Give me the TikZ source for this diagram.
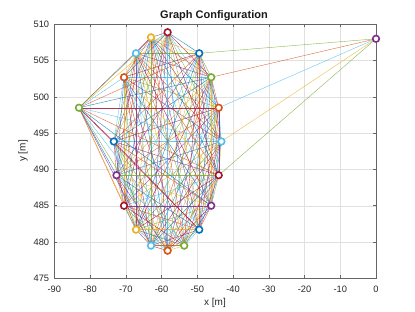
\documentclass[tikz,border=0pt]{standalone}
\usepackage{fontspec}
\setmainfont{Liberation Sans}
\definecolor{mc0}{RGB}{0,114,189}
\definecolor{mc1}{RGB}{217,83,25}
\definecolor{mc2}{RGB}{237,177,32}
\definecolor{mc3}{RGB}{126,47,142}
\definecolor{mc4}{RGB}{119,172,48}
\definecolor{mc5}{RGB}{77,190,238}
\definecolor{mc6}{RGB}{162,20,47}
\def\ringlist{0,1,2,3,5,6,7,8,10,11,12,13,14,15,16,17,18,19}

\begin{document}
\begin{tikzpicture}[x=1pt,y=1pt,
    marknode/.style={circle,draw,fill=white,line width=1.6pt,inner sep=0pt,minimum size=6.6pt},
    edgeline/.style={line width=0.4pt,draw opacity=0.85},
    ticklabel/.style={inner sep=0pt,text=black!85,font=\fontsize{9.3}{11}\selectfont},
    axislabel/.style={text=black!85,font=\fontsize{10}{12}\selectfont}]
    \useasboundingbox (0,0) rectangle (415,312);
    \node[text=black!90,font=\bfseries\fontsize{11}{13}\selectfont] (title) at (214,296) {Graph Configuration};
    \node[axislabel] (xlab) at (215,9) {x [m]};
    \node[axislabel,rotate=90] (ylab) at (23,161) {y [m]};
    \begin{scope}[shift={(376pt,-3413.4pt)},x=3.5744pt,y=7.2571pt]
        % grid and ticks
        \foreach \gx in {-90,-80,-70,-60,-50,-40,-30,-20,-10,0} {
            \draw[black!12,line width=0.4pt] (\gx,475) -- (\gx,510);
            \draw[black!60,line width=0.5pt] (\gx,475) -- ++(0,3pt) (\gx,510) -- ++(0,-3pt);
            \node[ticklabel,anchor=north,yshift=-7.5pt] (xt\gx) at (\gx,475) {\gx};
        }
        \foreach \gy in {475,480,485,490,495,500,505,510} {
            \draw[black!12,line width=0.4pt] (-90,\gy) -- (0,\gy);
            \draw[black!60,line width=0.5pt] (-90,\gy) -- ++(3pt,0) (0,\gy) -- ++(-3pt,0);
            \node[ticklabel,anchor=east,xshift=-5pt] (yt\gy) at (-90,\gy) {\gy};
        }
        \draw[black!60,line width=0.5pt] (-90,475) rectangle (0,510);
        % positions
        \foreach \k/\px/\py in {0/-43.25/493.85, 1/-44.0/498.5, 2/-46.1/502.7, 3/-49.45/506.0,
            4/0/508.0, 5/-58.3/508.9, 6/-62.95/508.2, 7/-67.15/506.0, 8/-70.5/502.7,
            9/-83.1/498.5, 10/-73.35/493.85, 11/-72.6/489.2, 12/-70.5/485.0, 13/-67.15/481.7,
            14/-62.95/479.5, 15/-58.3/478.8, 16/-53.65/479.5, 17/-49.45/481.7, 18/-46.1/485.0,
            19/-44.0/489.2}
            \coordinate (n\k) at (\px,\py);
        % links inside the ring
        \foreach \i [count=\a] in \ringlist {
            \foreach \j [count=\b] in \ringlist {
                \ifnum\b>\a
                    \pgfmathtruncatemacro\ci{mod(\a+2*\b,7)}
                    \draw[edgeline,mc\ci] (n\i) -- (n\j);
                \fi
            }
        }
        % links of the two outer nodes
        \foreach \i [count=\a] in \ringlist {
            \pgfmathtruncatemacro\ci{mod(\a+4,7)}
            \draw[edgeline,mc\ci] (n9) -- (n\i);
        }
        \foreach \i/\ci in {3/4,2/1,1/5,0/2,19/4}
            \draw[edgeline,mc\ci] (n4) -- (n\i);
        % markers
        \foreach \k in {0,...,19} {
            \pgfmathtruncatemacro\ci{mod(5+3*\k,7)}
            \node[marknode,draw=mc\ci] (m\k) at (n\k) {};
        }
    \end{scope}
\end{tikzpicture}
\end{document}
